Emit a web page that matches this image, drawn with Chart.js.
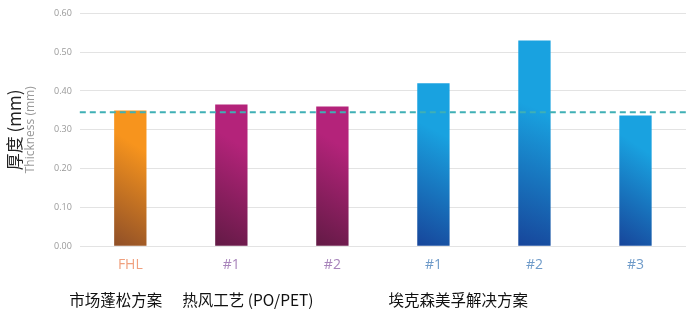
<!DOCTYPE html>
<html>
<head>
<meta charset="utf-8">
<script src="https://cdn.jsdelivr.net/npm/chart.js@4"></script>
<style>
  html, body { margin: 0; padding: 0; background: #fff; }
  #wrap { width: 686px; height: 315px; position: relative; }
</style>
</head>
<body>
<div id="wrap"><canvas id="myChart"></canvas></div>
<script>
// categories and values
const categories = ['FHL', '#1', '#2', '#1', '#2', '#3'];
const thickness = [0.35, 0.365, 0.36, 0.42, 0.53, 0.337];
const referenceLine = 0.345;
const yTicks = [0, 0.1, 0.2, 0.3, 0.4, 0.5, 0.6];
const groupNames = ['市场蓬松方案', '热风工艺 (PO/PET)', '埃克森美孚解决方案'];
const groupStart = [0, 1, 3];

// colours per bar: [dark, light], tick label colour
const barColors = [
  ['#8f4f28', '#f7941d'],
  ['#621a45', '#b4237a'],
  ['#621a45', '#b4237a'],
  ['#17459a', '#19a2e0'],
  ['#17459a', '#19a2e0'],
  ['#17459a', '#19a2e0']
];
const tickColors = ['#f0a07e', '#a884bb', '#a884bb', '#6f9bc9', '#6f9bc9', '#6f9bc9'];

const ctx = document.getElementById('myChart').getContext('2d');

function barGradient(context) {
  const chart = context.chart;
  const area = chart.chartArea;
  const i = context.dataIndex;
  if (!area) return barColors[i][1];
  const xs = chart.scales.x, ys = chart.scales.y;
  const cx = xs.getPixelForValue(i);
  const half = 16;
  const bottom = ys.getPixelForValue(0);
  const top = ys.getPixelForValue(thickness[i]);
  const g = chart.ctx.createLinearGradient(cx - half, bottom, cx + half + 20, bottom - (bottom - top) * 0.6);
  g.addColorStop(0, barColors[i][0]);
  g.addColorStop(1, barColors[i][1]);
  return g;
}

// dashed reference line, axis titles, group labels
const extras = {
  id: 'extras',
  afterDatasetsDraw(chart) {
    const c = chart.ctx;
    const area = chart.chartArea;
    const y = chart.scales.y.getPixelForValue(referenceLine);
    c.save();
    c.strokeStyle = '#3fb0b5';
    c.lineWidth = 2;
    c.setLineDash([6, 4]);
    c.beginPath();
    c.moveTo(area.left, y);
    c.lineTo(area.right, y);
    c.stroke();
    c.restore();
  },
  afterDraw(chart) {
    const c = chart.ctx;
    const area = chart.chartArea;
    const mid = (area.top + area.bottom) / 2;
    c.save();
    c.textAlign = 'center';
    c.textBaseline = 'middle';
    c.translate(15, mid);
    c.rotate(-Math.PI / 2);
    c.fillStyle = '#222';
    c.font = '17px "Noto Sans CJK SC", "Open Sans", sans-serif';
    c.fillText('厚度 (mm)', 0, 0);
    c.restore();

    c.save();
    c.textAlign = 'center';
    c.textBaseline = 'middle';
    c.translate(31, mid);
    c.rotate(-Math.PI / 2);
    c.fillStyle = '#999';
    c.font = '12px "Open Sans", sans-serif';
    c.fillText('Thickness (mm)', 0, 0);
    c.restore();

    const xs = chart.scales.x;
    const offsets = [-61, -49, -45];
    c.save();
    c.fillStyle = '#111';
    c.font = '15.5px "Noto Sans CJK SC", "Open Sans", sans-serif';
    c.textAlign = 'left';
    c.textBaseline = 'middle';
    groupNames.forEach((name, k) => {
      c.fillText(name, xs.getPixelForValue(groupStart[k]) + offsets[k], 300);
    });
    c.restore();
  }
};

const config = {
  type: 'bar',
  data: {
    labels: categories,
    datasets: [{
      data: thickness,
      backgroundColor: barGradient,
      borderWidth: 0,
      barPercentage: 0.32,
      categoryPercentage: 1
    }]
  },
  options: {
    responsive: true,
    maintainAspectRatio: false,
    animation: false,
    layout: { padding: { left: 46, top: -3, right: 0, bottom: 40 } },
    plugins: { legend: { display: false }, tooltip: { enabled: false } },
    scales: {
      x: {
        grid: { display: false },
        border: { display: false },
        ticks: {
          color: (c) => tickColors[c.index],
          font: { family: '"Open Sans", sans-serif', size: 14 },
          padding: 2
        }
      },
      y: {
        min: 0,
        max: 0.6,
        afterBuildTicks: (axis) => { axis.ticks = yTicks.map(v => ({ value: v })); },
        grid: { color: '#e3e3e3', drawTicks: false, lineWidth: 1 },
        border: { display: false },
        ticks: {
          color: '#999',
          font: { family: '"Open Sans", sans-serif', size: 9 },
          padding: 8,
          callback: (v) => Number(v).toFixed(2)
        }
      }
    }
  },
  plugins: [extras]
};

new Chart(ctx, config);
</script>
</body>
</html>
